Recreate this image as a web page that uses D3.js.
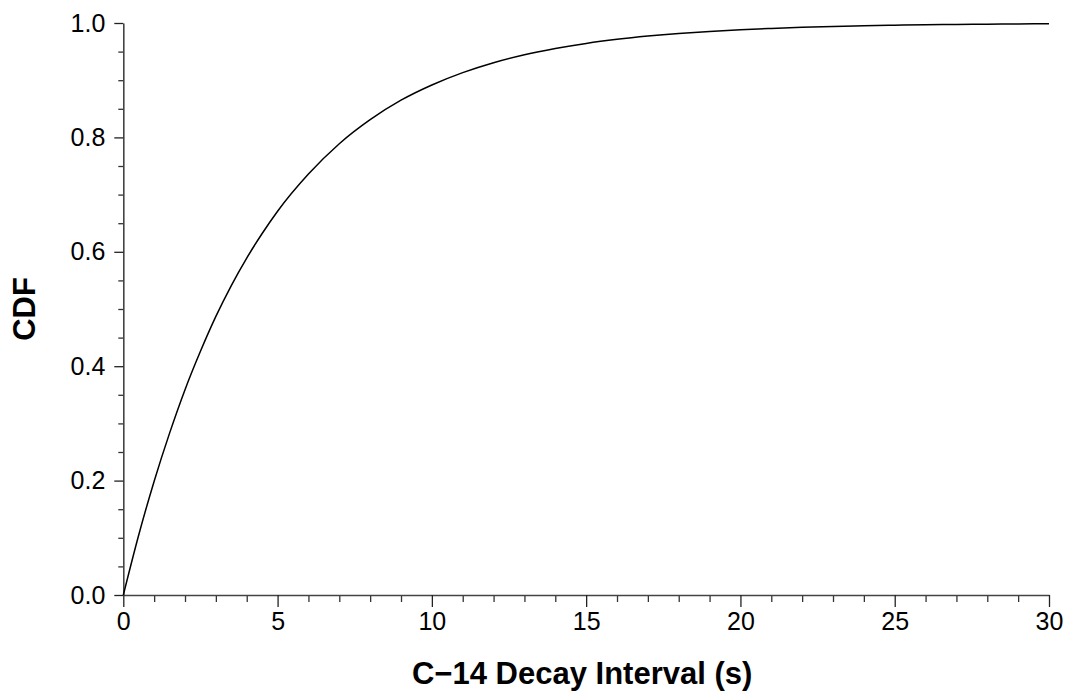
<!DOCTYPE html>
<html>
<head>
<meta charset="utf-8">
<script src="https://cdn.jsdelivr.net/npm/d3@7"></script>
<style>
  html, body { margin: 0; padding: 0; background: #fff; }
  svg { display: block; }
  text { font-family: "Liberation Sans", Arial, Helvetica, sans-serif; fill: #000; }
</style>
</head>
<body>
<svg id="chart" width="1067" height="692"></svg>
<script>
// Data
const intervalSeconds = [0, 0.5, 1, 1.5, 2, 2.5, 3, 3.5, 4, 4.5, 5, 6, 7, 8, 9, 10, 11, 12, 13, 14, 15, 16, 17, 18, 19, 20, 21, 22, 23, 24, 25, 26, 27, 28, 29, 30];
const cdfValues = [0, 0.105, 0.199, 0.283, 0.359, 0.426, 0.487, 0.541, 0.589, 0.632, 0.671, 0.736, 0.789, 0.831, 0.865, 0.8916, 0.9132, 0.9305, 0.9444, 0.9554, 0.9643, 0.9714, 0.9771, 0.9817, 0.9853, 0.9883, 0.9906, 0.9925, 0.9940, 0.9952, 0.9962, 0.9969, 0.9975, 0.9980, 0.9984, 0.9987];
const xMajorTicks = [0, 5, 10, 15, 20, 25, 30];
const yMajorTicks = [0, 0.2, 0.4, 0.6, 0.8, 1.0];
const xTitle = "C\u221214 Decay Interval (s)";
const yTitle = "CDF";

const svg = d3.select("#chart");
const mLeft = 123.3, mRight = 1049, mTop = 23, mBottom = 595;

const x = d3.scaleLinear().domain([0, 30]).range([mLeft, mRight]);
const y = d3.scaleLinear().domain([0, 1]).range([mBottom, mTop]);

const xMinor = d3.range(0, 31, 1).filter(v => !xMajorTicks.includes(v));
const yMinor = d3.range(0, 1.0001, 0.05).map(v => +v.toFixed(2)).filter(v => !yMajorTicks.some(t => Math.abs(t - v) < 1e-6));

// X axis minor ticks
svg.append("g").attr("transform", `translate(0,${mBottom})`)
  .call(d3.axisBottom(x).tickValues(xMinor).tickSize(7).tickFormat(""))
  .call(g => g.select(".domain").remove())
  .call(g => g.selectAll("line").attr("stroke", "#333").attr("stroke-width", 1.3));

// X axis major
svg.append("g").attr("transform", `translate(0,${mBottom})`)
  .call(d3.axisBottom(x).tickValues(xMajorTicks).tickSize(12).tickSizeOuter(0).tickPadding(5).tickFormat(d3.format("d")))
  .call(g => g.select(".domain").attr("stroke", "#444").attr("stroke-width", 1.6))
  .call(g => g.selectAll("line").attr("stroke", "#222").attr("stroke-width", 1.3))
  .call(g => g.selectAll("text").attr("font-size", 25).attr("font-family", "Liberation Sans, Arial, sans-serif").attr("fill", "#000"));

// Y axis minor
svg.append("g").attr("transform", `translate(${mLeft},0)`)
  .call(d3.axisLeft(y).tickValues(yMinor).tickSize(5).tickFormat(""))
  .call(g => g.select(".domain").remove())
  .call(g => g.selectAll("line").attr("stroke", "#333").attr("stroke-width", 1.3));

// Y axis major
svg.append("g").attr("transform", `translate(${mLeft},0)`)
  .call(d3.axisLeft(y).tickValues(yMajorTicks).tickSize(9).tickSizeOuter(0).tickPadding(9).tickFormat(d3.format(".1f")))
  .call(g => g.select(".domain").attr("stroke", "#444").attr("stroke-width", 1.6))
  .call(g => g.selectAll("line").attr("stroke", "#222").attr("stroke-width", 1.3))
  .call(g => g.selectAll("text").attr("font-size", 25).attr("font-family", "Liberation Sans, Arial, sans-serif").attr("fill", "#000"));

// Curve
const pts = intervalSeconds.map((v, i) => [v, cdfValues[i]]);
svg.append("path")
  .datum(pts)
  .attr("fill", "none")
  .attr("stroke", "#000")
  .attr("stroke-width", 1.5)
  .attr("d", d3.line().x(d => x(d[0])).y(d => y(d[1])).curve(d3.curveMonotoneX));

// Titles
svg.append("text")
  .attr("x", (mLeft + mRight) / 2 - 4)
  .attr("y", 684)
  .attr("text-anchor", "middle")
  .attr("font-size", 31)
  .attr("font-weight", "bold")
  .text(xTitle);

svg.append("text")
  .attr("transform", `translate(35,${(mTop + mBottom) / 2}) rotate(-90)`)
  .attr("text-anchor", "middle")
  .attr("font-size", 31)
  .attr("font-weight", "bold")
  .text(yTitle);
</script>
</body>
</html>
